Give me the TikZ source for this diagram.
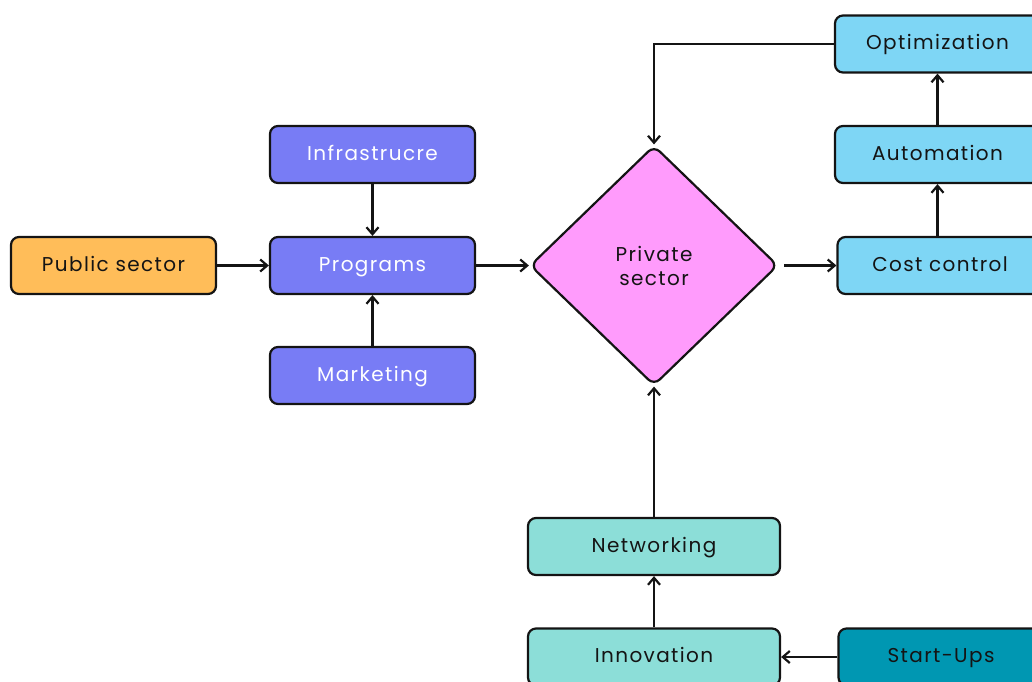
\documentclass[tikz,border=0pt]{standalone}
\usepackage{fontspec}
\setmainfont{Poppins}[LetterSpace=7.0]
\usetikzlibrary{
  arrows.meta,
  positioning,
  shapes.geometric,
}
\definecolor{publicorange}{RGB}{255, 189, 89}
\definecolor{programpurple}{RGB}{120, 124, 245}
\definecolor{privatepink}{RGB}{255, 155, 252}
\definecolor{costblue}{RGB}{126, 214, 245}
\definecolor{innoteal}{RGB}{140, 222, 216}
\definecolor{startteal}{RGB}{0, 151, 178}
\colorlet{ink}{black!92}
\tikzstyle{arrow} = [
  -{Straight Barb[length=3.5pt,width=6pt]},
  line width=1.1pt,
  ink,
]
\tikzstyle{box} = [
  draw=ink,
  line width=1.1pt,
  rounded corners=4pt,
  minimum width=102.5pt,
  minimum height=28.5pt,
  inner sep=0pt,
  text height=7.2pt,
  text depth=1.6pt,
  font=\fontsize{10}{12}\selectfont,
  text=ink,
]
\tikzstyle{widebox} = [box, minimum width=126pt]

\begin{document}
\begin{tikzpicture}[x=0.5pt, y=-0.5pt]

        \useasboundingbox (0,0) rectangle (1032,681);
        \clip (0,0) rectangle (1032,681);

        %% left column
        \node [box, fill=publicorange] (public) at (113.5, 265.5) {Public sector};
        \node [box, fill=programpurple, text=white] (infra) at (372.5, 154.5) {Infrastrucre};
        \node [box, fill=programpurple, text=white] (programs) at (372.5, 265.5) {Programs};
        \node [box, fill=programpurple, text=white] (marketing) at (372.5, 375.5) {Marketing};

        %% centre
        \node [diamond, draw=ink, line width=1.1pt, rounded corners=4pt, fill=privatepink,
               minimum width=124pt, minimum height=120pt, inner sep=0pt, align=center,
               font=\fontsize{10}{12}\selectfont, text=ink] (private) at (654, 265.5) {Private\\sector};

        %% right column
        \node [box, fill=costblue] (optim) at (937.5, 44) {Optimization};
        \node [box, fill=costblue] (autom) at (937.5, 154.5) {Automation};
        \node [box, fill=costblue] (cost) at (940, 265.5) {Cost control};

        %% bottom
        \node [widebox, fill=innoteal] (network) at (654, 546.5) {Networking};
        \node [widebox, fill=innoteal] (innov) at (654, 657) {Innovation};
        \node [box, fill=startteal] (startups) at (941, 657) {Start-Ups};

        \draw [arrow] (public) -- (programs);
        \draw [arrow] (infra) -- (programs);
        \draw [arrow] (marketing) -- (programs);
        \draw [arrow] (programs) -- (private);
        \draw [arrow, shorten <=2.5pt] (private) -- (cost);
        \draw [arrow] (cost.north -| autom) -- (autom);
        \draw [arrow] (autom) -- (optim);
        \draw [arrow] (optim.west) -| (private.north);
        \draw [arrow] (network) -- (private);
        \draw [arrow] (innov) -- (network);
        \draw [arrow] (startups) -- (innov);
      \end{tikzpicture}
\end{document}
